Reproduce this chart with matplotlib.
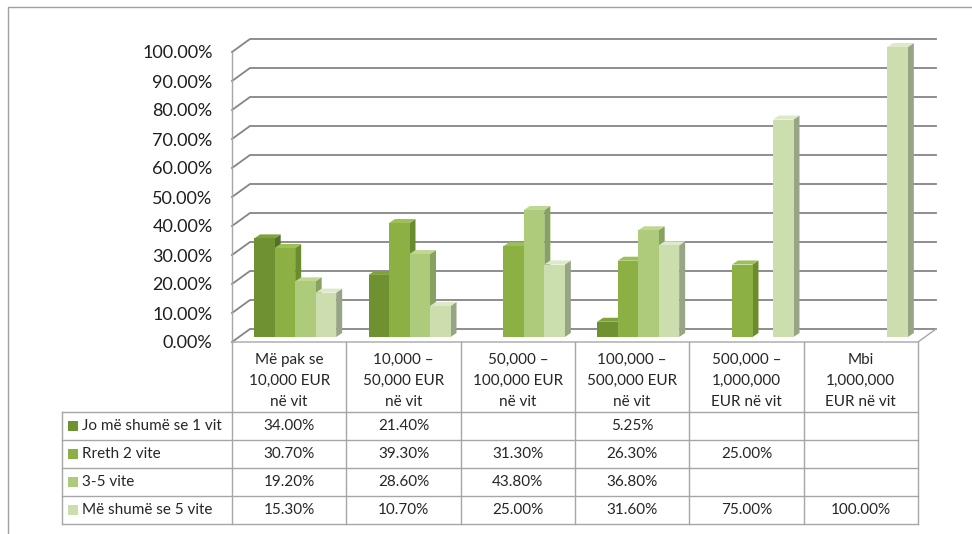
import numpy as np
import matplotlib
matplotlib.use('Agg')
import matplotlib.pyplot as plt
from matplotlib.patches import Polygon, Rectangle
from matplotlib.ticker import PercentFormatter

plt.rcParams['font.family'] = ['Lato', 'DejaVu Sans']

categories = ["Më pak se\n10,000 EUR\nnë vit",
              "10,000 –\n50,000 EUR\nnë vit",
              "50,000 –\n100,000 EUR\nnë vit",
              "100,000 –\n500,000 EUR\nnë vit",
              "500,000 –\n1,000,000\nEUR në vit",
              "Mbi\n1,000,000\nEUR në vit"]
series_names = ["Jo më shumë se 1 vit", "Rreth 2 vite", "3-5 vite", "Më shumë se 5 vite"]

jo_me_shume_1 = [34.00, 21.40, np.nan, 5.25, np.nan, np.nan]
rreth_2 = [30.70, 39.30, 31.30, 26.30, 25.00, np.nan]
vite_3_5 = [19.20, 28.60, 43.80, 36.80, np.nan, np.nan]
mbi_5 = [15.30, 10.70, 25.00, 31.60, 75.00, 100.00]
series_values = [jo_me_shume_1, rreth_2, vite_3_5, mbi_5]

y_ticks = np.arange(0, 101, 10)

front_cols = ['#6F9132', '#8CB043', '#AECB7C', '#CCDDAE']
side_cols = ['#53702A', '#6A8C2E', '#87A25E', '#97A585']
top_cols = ['#80A23E', '#9DC055', '#C0D792', '#DDE9C8']

grid_col = '#858585'
line_col = '#A6A6A6'

fig = plt.figure(figsize=(9.72, 5.34), dpi=100)

# plot area in pixels (front plane): x 232..918, y 342 (0%) .. 52 (100%)
left_px, right_px, base_px, top_px = 232, 918, 342, 52
ax = fig.add_axes([left_px / 972, (534 - base_px) / 534,
                   (right_px - left_px) / 972, (base_px - top_px) / 534])
ax.set_xlim(-0.5, len(categories) - 0.5)
ax.set_ylim(0, 100)
for s in ax.spines.values():
    s.set_visible(False)
ax.set_xticks([])
ax.set_yticks(y_ticks)
ax.yaxis.set_major_formatter(PercentFormatter(xmax=100, decimals=2))
ax.tick_params(axis='y', length=0, pad=14, labelsize=13, labelcolor='#1E1E1E')
ax.patch.set_alpha(0)

col_px = (right_px - left_px) / len(categories)
pct_px = (base_px - top_px) / 100.0
wall_dx, wall_dy = 18 / col_px, 13 / pct_px
bar_w = 20.5 / col_px
bar_dx, bar_dy = 6 / col_px, 5 / pct_px
side_dx, side_dy = 6 / col_px, 4 / pct_px
x_lo, x_hi = -0.5, len(categories) - 0.5

# walls + gridlines
for v in y_ticks:
    ax.plot([x_lo, x_lo + wall_dx, x_hi + wall_dx], [v, v + wall_dy, v + wall_dy],
            color=grid_col, lw=1.3, clip_on=False, zorder=0.5, solid_joinstyle='miter')
ax.plot([x_lo, x_lo], [0, 100], color=line_col, lw=1.0, clip_on=False, zorder=0.5)
ax.plot([x_lo, x_hi, x_hi + wall_dx], [0, 0, wall_dy], color=line_col, lw=1.0,
        clip_on=False, zorder=0.5)

# 3d-ish bars
for j in range(len(categories)):
    for i, vals in enumerate(series_values):
        v = vals[j]
        if np.isnan(v):
            continue
        x0 = j - 2 * bar_w + i * bar_w + bar_dx
        y0, y1 = bar_dy, bar_dy + v
        xr = x0 + bar_w
        ax.add_patch(Polygon([(xr, y0), (xr + side_dx, y0 + side_dy),
                              (xr + side_dx, y1 + side_dy), (xr, y1)],
                             closed=True, facecolor=side_cols[i], edgecolor='none',
                             clip_on=False))
        ax.add_patch(Polygon([(x0, y1), (x0 + side_dx, y1 + side_dy),
                              (xr + side_dx, y1 + side_dy), (xr, y1)],
                             closed=True, facecolor=top_cols[i], edgecolor='none',
                             clip_on=False))
        ax.bar(x0, v, width=bar_w, bottom=y0, align='edge', color=front_cols[i],
               edgecolor='none', clip_on=False)

# data table drawn in pixel space
tab = fig.add_axes([0, 0, 1, 1])
tab.set_xlim(0, 972)
tab.set_ylim(534, 0)
tab.axis('off')
tab.patch.set_alpha(0)

tab.plot([8, 8, 972], [534, 7, 7], color='#A0A0A0', lw=1.0)

col_edges = [left_px + k * col_px for k in range(len(categories) + 1)]
row_top, row_h = 412, 28
table_left = 62
n_rows = len(series_names)
row_edges = [row_top + k * row_h for k in range(n_rows + 1)]

for x in col_edges:
    tab.plot([x, x], [base_px, row_edges[-1]], color=line_col, lw=1.0)
tab.plot([table_left, table_left], [row_top, row_edges[-1]], color=line_col, lw=1.0)
for y in row_edges:
    tab.plot([table_left, col_edges[-1]], [y, y], color=line_col, lw=1.0)

txt_col = '#262626'
for j, cat in enumerate(categories):
    cx = (col_edges[j] + col_edges[j + 1]) / 2
    for k, line in enumerate(cat.split('\n')):
        tab.text(cx, 360 + k * 21, line, ha='center', va='center',
                 fontsize=11, color=txt_col)

for i, name in enumerate(series_names):
    cy = row_edges[i] + row_h / 2
    tab.add_patch(Rectangle((68, cy - 5), 10, 10, facecolor=front_cols[i], edgecolor='none'))
    tab.text(82, cy, name, ha='left', va='center', fontsize=11, color=txt_col)
    for j, v in enumerate(series_values[i]):
        if np.isnan(v):
            continue
        cx = (col_edges[j] + col_edges[j + 1]) / 2
        tab.text(cx, cy, f"{v:.2f}%", ha='center', va='center', fontsize=11, color=txt_col)

fig.savefig('out.png', dpi=100)
